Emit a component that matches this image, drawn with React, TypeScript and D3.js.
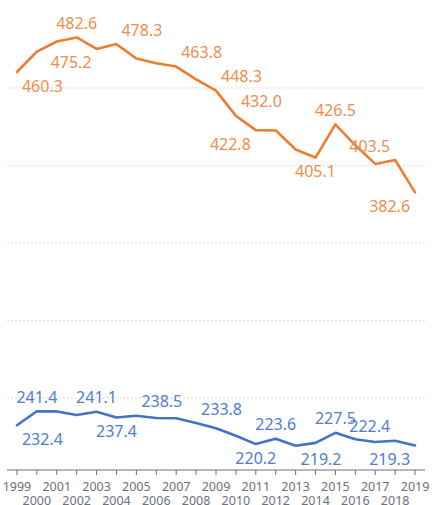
import React from 'react';
import * as d3 from 'd3';

const years = ['1999', '2000', '2001', '2002', '2003', '2004', '2005', '2006', '2007', '2008', '2009',
    '2010', '2011', '2012', '2013', '2014', '2015', '2016', '2017', '2018', '2019'];

const orangeValues = [460.3, 473.5, 480.0, 482.6, 475.2, 478.3, 469.0, 465.9, 463.8, 455.6, 448.3,
    432.0, 422.8, 422.6, 410.3, 405.1, 426.5, 413.0, 401.0, 403.5, 382.6];
const blueValues = [232.4, 241.4, 241.3, 239.0, 241.1, 237.4, 238.5, 237.1, 236.9, 233.8, 230.4,
    225.6, 220.2, 223.6, 219.2, 221.0, 227.5, 223.3, 221.6, 222.4, 219.3];

// which points carry a value label, and where the label sits
const orangeLabelYears = ['1999', '2002', '2003', '2004', '2007', '2009', '2010', '2011', '2014', '2015', '2018', '2019'];
const orangeLabelSpots = ['bottomRight', 'top', 'bottomLeft', 'topRight', 'topRight', 'topRight', 'topRight', 'bottomLeft', 'bottom', 'top', 'topLeft', 'bottomLeft'];
const blueLabelYears = ['1999', '2000', '2003', '2004', '2005', '2008', '2011', '2012', '2013', '2015', '2018', '2019'];
const blueLabelSpots = ['bottomRight', 'top', 'top', 'bottom', 'topRight', 'topRight', 'bottom', 'top', 'bottomRight', 'top', 'topLeft', 'bottomLeft'];

const gridValues = [250, 300, 350, 400, 450];

const W = 432, H = 505;
const left = 7, right = 425, top = 8, bottom = 470;
const font = '"Noto Sans", "DejaVu Sans", sans-serif';

const x = d3.scalePoint<string>().domain(years).range([left, right]).padding(0.5);
const y = d3.scaleLinear().domain([203.5, 501.6]).range([bottom, top]);

const line = d3.line<number>()
    .x((d, i) => x(years[i]) as number)
    .y(d => y(d));

const labelProps = (spot: string, px: number, py: number) => {
    let anchor = 'middle', lx = px;
    if (spot.endsWith('Right')) { anchor = 'start'; lx = px + 5; }
    if (spot.endsWith('Left')) { anchor = 'end'; lx = px - 5; }
    const ly = spot.startsWith('top') ? py - 8.5 : py + 19.5;
    return { x: lx, y: ly, textAnchor: anchor };
};

const Series = ({ values, labelYears, spots, color, labelColor }:
    { values: number[], labelYears: string[], spots: string[], color: string, labelColor: string }) => (
    <g>
        <path d={line(values) || ''} fill="none" stroke={color} strokeWidth={2.6} strokeLinejoin="round" strokeLinecap="round" />
        {labelYears.map((yr, k) => {
            const i = years.indexOf(yr);
            const p = labelProps(spots[k], x(yr) as number, y(values[i]));
            return (
                <text key={yr} x={p.x} y={p.y} textAnchor={p.textAnchor} fontSize={16} fill={labelColor} fontFamily={font}>
                    {values[i].toFixed(1)}
                </text>
            );
        })}
    </g>
);

export default function App() {
    return (
        <svg width={W} height={H} style={{ position: 'absolute', left: 0, top: 0, background: '#fff' }}>
            {gridValues.map(v => (
                <line key={v} x1={left} x2={right} y1={y(v)} y2={y(v)} stroke="#dcdcdc" strokeWidth={1} strokeDasharray="2 2" />
            ))}
            <line x1={left} x2={right} y1={bottom} y2={bottom} stroke="#6E7079" strokeWidth={1} />
            {years.map((yr, i) => {
                const px = x(yr) as number;
                return (
                    <g key={yr}>
                        <line x1={px} x2={px} y1={bottom} y2={bottom + 5} stroke="#6E7079" strokeWidth={1} />
                        <text x={px} y={i % 2 === 0 ? 490.5 : 505} textAnchor="middle" fontSize={12.5} fill="#6E7079" fontFamily={font}>{yr}</text>
                    </g>
                );
            })}
            <Series values={orangeValues} labelYears={orangeLabelYears} spots={orangeLabelSpots} color="#ED7D31" labelColor="#F08D4C" />
            <Series values={blueValues} labelYears={blueLabelYears} spots={blueLabelSpots} color="#4472C4" labelColor="#4F7DD0" />
        </svg>
    );
}
